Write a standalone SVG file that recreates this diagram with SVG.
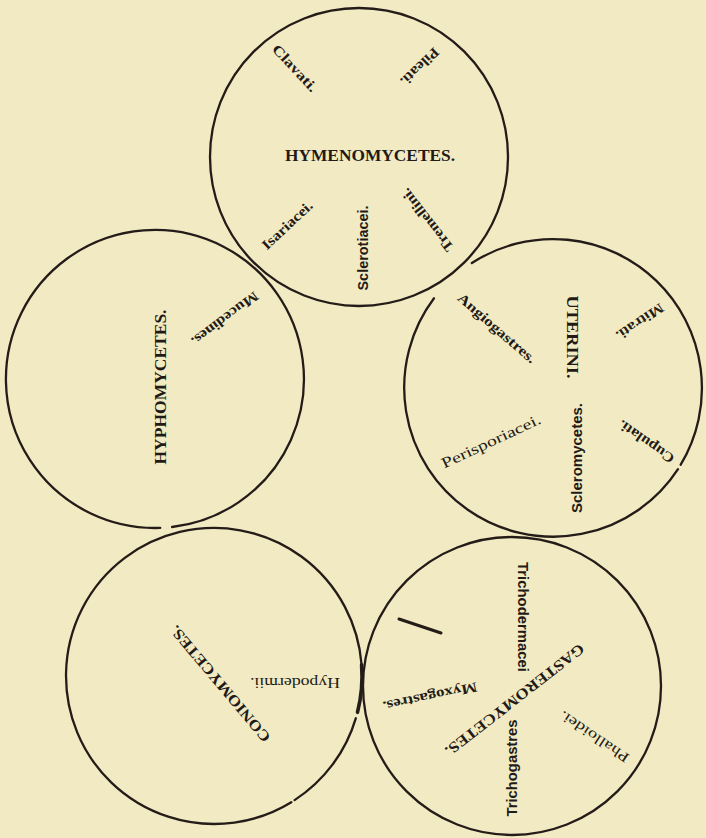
<svg xmlns="http://www.w3.org/2000/svg" width="706" height="838" viewBox="0 0 706 838">
<style>
.ring{fill:none;stroke:#241c18;stroke-width:2.3;stroke-linecap:round}
.thick{fill:none;stroke:#241c18;stroke-width:3.6;stroke-linecap:round}
.t{fill:#221a16;text-anchor:middle}
.sb{font-family:"Liberation Serif","Times New Roman",serif;font-weight:bold}
.sr{font-family:"Liberation Serif","Times New Roman",serif}
.ss{font-family:"Liberation Sans",Arial,sans-serif;font-weight:bold}
</style>
<rect width="706" height="838" fill="#f2eac3"/>

<g id="hymenomycetes">
<circle class="ring" cx="359" cy="157" r="149"/>
<text class="t sb" font-size="16" transform="translate(370,155)" dy="0.35em" textLength="170" lengthAdjust="spacingAndGlyphs">HYMENOMYCETES.</text>
<text class="t sb" font-size="14" transform="translate(295,68) rotate(47)" dy="0.35em" textLength="59" lengthAdjust="spacingAndGlyphs">Clavati.</text>
<text class="t sb" font-size="14" transform="translate(420,67) rotate(136)" dy="0.35em" textLength="48" lengthAdjust="spacingAndGlyphs">Pileati.</text>
<text class="t sb" font-size="14" transform="translate(287,225) rotate(-43)" dy="0.35em" textLength="64" lengthAdjust="spacingAndGlyphs">Isariacei.</text>
<text class="t ss" font-size="14" transform="translate(363,248) rotate(-90)" dy="0.35em" textLength="85" lengthAdjust="spacingAndGlyphs">Sclerotiacei.</text>
<text class="t sb" font-size="14" transform="translate(427,220) rotate(232)" dy="0.35em" textLength="76" lengthAdjust="spacingAndGlyphs">Tremellini.</text>
</g>

<g id="hyphomycetes">
<path class="ring" d="M160.2 527.9 A149 149 0 1 1 172.1 527.0"/>
<text class="t sb" font-size="16" transform="translate(160,387) rotate(-90)" dy="0.35em" textLength="155" lengthAdjust="spacingAndGlyphs">HYPHOMYCETES.</text>
<text class="t sb" font-size="14" transform="translate(225,319) rotate(143)" dy="0.35em" textLength="80" lengthAdjust="spacingAndGlyphs">Mucedines.</text>
</g>

<g id="uterini">
<path class="ring" d="M471.9 263.0 A149 149 0 0 1 680.7 464.7 M678.0 469.1 A149 149 0 1 1 434.0 298.3"/>
<text class="t sb" font-size="16" transform="translate(573,337) rotate(90)" dy="0.35em" textLength="83" lengthAdjust="spacingAndGlyphs">UTERINI.</text>
<text class="t sb" font-size="14" transform="translate(497,328) rotate(41)" dy="0.35em" textLength="99" lengthAdjust="spacingAndGlyphs">Angiogastres.</text>
<text class="t sb" font-size="14" transform="translate(640,322) rotate(146)" dy="0.35em" textLength="54" lengthAdjust="spacingAndGlyphs">Mitrati.</text>
<text class="t sr" font-size="15" transform="translate(491,441) rotate(-25)" dy="0.35em" textLength="108" lengthAdjust="spacingAndGlyphs">Perisporiacei.</text>
<text class="t ss" font-size="14" transform="translate(577,458) rotate(-90)" dy="0.35em" textLength="110" lengthAdjust="spacingAndGlyphs">Scleromycetes.</text>
<text class="t sb" font-size="14" transform="translate(646,442) rotate(215)" dy="0.35em" textLength="65" lengthAdjust="spacingAndGlyphs">Cupulati.</text>
</g>

<g id="coniomycetes">
<path class="ring" d="M355.8 718.3 A148 148 0 0 1 294.6 800.1 M291.3 802.2 A148 148 0 1 1 361.6 664.9"/>
<path class="thick" d="M361.6 664.9 A148 148 0 0 1 357.5 712.3"/>
<text class="t sb" font-size="15" transform="translate(220,684) rotate(230)" dy="0.35em" textLength="147" lengthAdjust="spacingAndGlyphs">CONIOMYCETES.</text>
<text class="t sr" font-size="15" transform="translate(295,683) rotate(180)" dy="0.35em" textLength="90" lengthAdjust="spacingAndGlyphs">Hypodermii.</text>
</g>

<g id="gasteromycetes">
<circle class="ring" cx="512" cy="686" r="149"/>
<line class="thick" x1="399" y1="619" x2="441" y2="633" style="stroke-width:3"/>
<text class="t sb" font-size="15" transform="translate(515,700) rotate(142)" dy="0.35em" textLength="172" lengthAdjust="spacingAndGlyphs">GASTEROMYCETES.</text>
<text class="t ss" font-size="14" transform="translate(523,617) rotate(90)" dy="0.35em" textLength="110" lengthAdjust="spacingAndGlyphs">Trichodermacei</text>
<text class="t sb" font-size="14" transform="translate(430,697) rotate(168)" dy="0.35em" textLength="96" lengthAdjust="spacingAndGlyphs">Myxogastres.</text>
<text class="t ss" font-size="14" transform="translate(512,768) rotate(-90)" dy="0.35em" textLength="97" lengthAdjust="spacingAndGlyphs">Trichogastres</text>
<text class="t sr" font-size="14" transform="translate(594,737) rotate(214)" dy="0.35em" textLength="81" lengthAdjust="spacingAndGlyphs">Phalloidei.</text>
</g>
</svg>
